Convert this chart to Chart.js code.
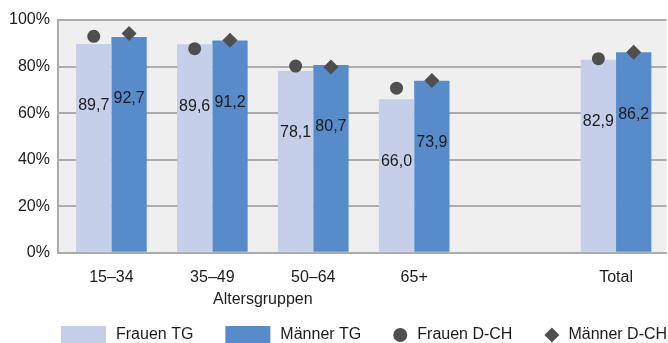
<!DOCTYPE html>
<html>
<head>
<meta charset="utf-8">
<script src="https://cdn.jsdelivr.net/npm/chart.js@4.4.1/dist/chart.umd.min.js"></script>
<style>
  html, body { margin: 0; padding: 0; overflow: hidden; background: #fff; }
</style>
</head>
<body>
<canvas id="chart" width="674" height="343"></canvas>
<script>
// Werte
const categories = ['15–34', '35–49', '50–64', '65+', '', 'Total'];
const frauenTG = [89.7, 89.6, 78.1, 66.0, null, 82.9];
const maennerTG = [92.7, 91.2, 80.7, 73.9, null, 86.2];
const frauenCH = [93.0, 87.7, 80.2, 70.7, null, 83.4];
const maennerCH = [94.2, 91.3, 79.8, 74.0, null, 86.1];
const yTicks = [0, 20, 40, 60, 80, 100];
const seriesNames = ['Frauen TG', 'Männer TG', 'Frauen D-CH', 'Männer D-CH'];
const xTitle = 'Altersgruppen';

const COL_F = '#c5cfea';
const COL_M = '#588bc9';
const COL_PT = '#4f4f4f';
const GRID = '#acacac';
const TEXT = '#1c1c1c';
const FONT = '"Liberation Sans", Arial, sans-serif';
const catPct = 0.7;
const shift = catPct / 4; // Mitte des jeweiligen Balkens

// x-Achse ist linear (Index der Kategorie), damit Balken und Punkte dieselbe Achse teilen
const toBars = arr => arr.map((v, i) => ({ x: i, y: v }));
const toPoints = (arr, dir) => arr
  .map((v, i) => v == null ? null : { x: i + dir * shift, y: v })
  .filter(p => p !== null);

// Hintergrund der Zeichenfläche
const bgPlugin = {
  id: 'plotBg',
  beforeDraw(chart) {
    const { ctx, chartArea: a } = chart;
    ctx.save();
    ctx.fillStyle = '#efefef';
    ctx.fillRect(a.left, a.top, a.right - a.left, a.bottom - a.top);
    ctx.restore();
  }
};

// Werte in den Balken
const labelPlugin = {
  id: 'barLabels',
  afterDatasetsDraw(chart) {
    const { ctx } = chart;
    ctx.save();
    ctx.font = '16px ' + FONT;
    ctx.fillStyle = TEXT;
    ctx.textAlign = 'center';
    ctx.textBaseline = 'middle';
    [frauenTG, maennerTG].forEach((vals, di) => {
      chart.getDatasetMeta(di).data.forEach((bar, i) => {
        const v = vals[i];
        if (v == null) return;
        ctx.fillText(v.toFixed(1).replace('.', ','), bar.x, bar.y + 62);
      });
    });
    ctx.restore();
  }
};

// Achsentitel unter den Altersgruppen + Legende
const extrasPlugin = {
  id: 'extras',
  afterDraw(chart) {
    const { ctx } = chart;
    const xs = chart.scales.x;
    ctx.save();
    ctx.font = '16px ' + FONT;
    ctx.fillStyle = TEXT;
    ctx.textBaseline = 'middle';
    ctx.textAlign = 'center';
    const mid = (xs.getPixelForValue(0) + xs.getPixelForValue(3)) / 2;
    ctx.fillText(xTitle, mid, 300);

    // Legende
    ctx.textAlign = 'left';
    const ly = 335;
    let x = 61;
    seriesNames.forEach((name, i) => {
      let w;
      if (i < 2) {
        ctx.fillStyle = i === 0 ? COL_F : COL_M;
        ctx.fillRect(x, ly - 9, 45, 18);
        w = 45;
      } else {
        ctx.fillStyle = COL_PT;
        ctx.beginPath();
        if (i === 2) {
          ctx.arc(x + 7, ly, 7, 0, Math.PI * 2);
        } else {
          ctx.moveTo(x, ly); ctx.lineTo(x + 7.5, ly - 7.5);
          ctx.lineTo(x + 15, ly); ctx.lineTo(x + 7.5, ly + 7.5);
          ctx.closePath();
        }
        ctx.fill();
        w = 14;
      }
      ctx.fillStyle = TEXT;
      ctx.fillText(name, x + w + 10, ly);
      x += w + 10 + ctx.measureText(name).width + 32;
    });
    ctx.restore();
  }
};

new Chart(document.getElementById('chart'), {
  type: 'bar',
  data: {
    datasets: [
      { type: 'bar', label: seriesNames[0], data: toBars(frauenTG), backgroundColor: COL_F,
        categoryPercentage: catPct, barPercentage: 1, order: 2 },
      { type: 'bar', label: seriesNames[1], data: toBars(maennerTG), backgroundColor: COL_M,
        categoryPercentage: catPct, barPercentage: 1, order: 2 },
      { type: 'scatter', label: seriesNames[2], data: toPoints(frauenCH, -1),
        pointStyle: 'circle', pointRadius: 6.5, backgroundColor: COL_PT,
        borderWidth: 0, order: 1 },
      { type: 'scatter', label: seriesNames[3], data: toPoints(maennerCH, 1),
        pointStyle: 'rectRot', pointRadius: 7.5, backgroundColor: COL_PT,
        borderWidth: 0, order: 1 }
    ]
  },
  options: {
    responsive: false,
    animation: false,
    layout: { padding: { left: 1, right: 3, top: 20, bottom: 41 } },
    plugins: {
      legend: { display: false },
      tooltip: { enabled: false }
    },
    scales: {
      x: {
        type: 'linear',
        offset: false,
        min: -0.53,
        max: categories.length - 0.5,
        afterBuildTicks: axis => { axis.ticks = categories.map((c, i) => ({ value: i })); },
        grid: { display: false, drawTicks: false },
        border: { display: true, color: GRID, width: 2 },
        ticks: { color: TEXT, font: { size: 16, family: FONT }, padding: 15, maxRotation: 0,
          autoSkip: false, callback: v => categories[v] }
      },
      y: {
        min: 0,
        max: 100,
        afterBuildTicks: axis => { axis.ticks = yTicks.map(v => ({ value: v })); },
        grid: { color: GRID, lineWidth: 2, drawTicks: false },
        border: { display: true, color: GRID, width: 2 },
        ticks: { color: TEXT, font: { size: 16, family: FONT }, padding: 8, callback: v => v + '%' }
      }
    }
  },
  plugins: [bgPlugin, labelPlugin, extrasPlugin]
});
</script>
</body>
</html>
